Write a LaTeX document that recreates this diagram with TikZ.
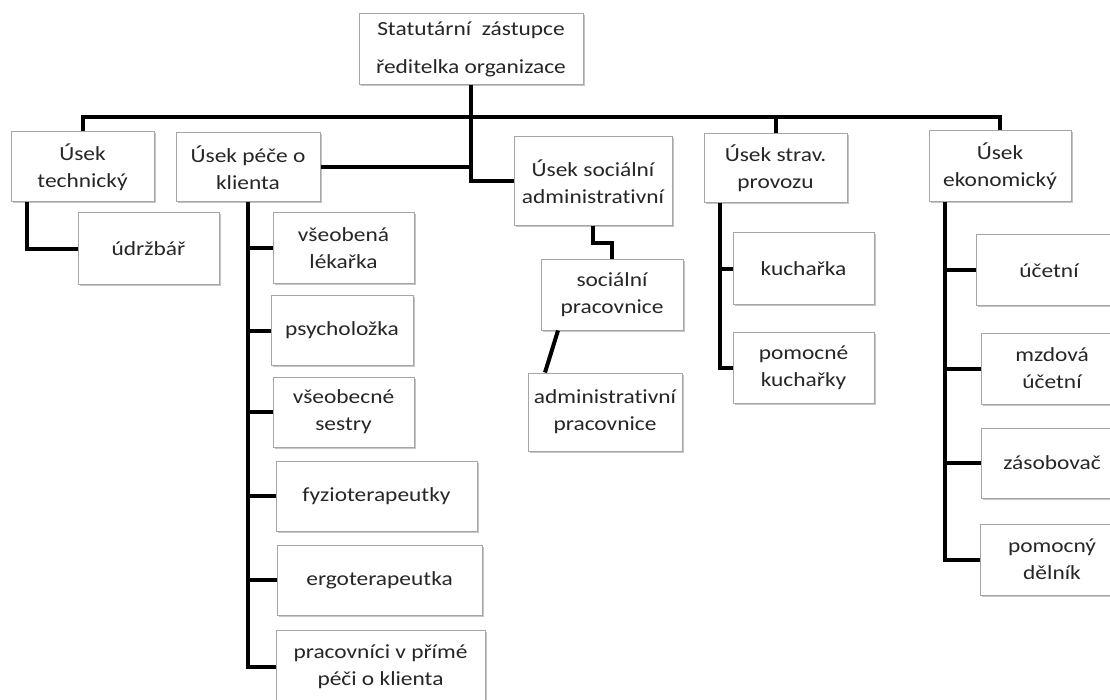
\documentclass[tikz,border=0pt]{standalone}
\usepackage{fontspec}
\setmainfont{Carlito}[FakeStretch=1.17,Ligatures=NoCommon]
\usetikzlibrary{calc,shadows}

\begin{document}
\begin{tikzpicture}[x=1pt,y=-1pt,
  box/.style={draw=black!35,line width=1pt,fill=white,inner sep=0pt,align=center,
    text=black!85,font=\fontsize{20}{27}\selectfont,
    drop shadow={shadow xshift=1.5pt,shadow yshift=-1.5pt,fill=black!45,opacity=0.5}},
  sz/.style 2 args={minimum width=#1pt,minimum height=#2pt},
  conn/.style={line width=4pt}]
\useasboundingbox (0,0) rectangle (1110,700);
\clip (0,0) rectangle (1110,700);

\node[box,sz={224}{71}] (top) at (471,49.5) {Statutární\ \ zástupce\\[11pt]ředitelka organizace};

\node[box,sz={143}{70}] (tech) at (82.5,167) {Úsek\\technický};
\node[box,sz={144}{69}] (pece) at (248,167.5) {Úsek péče o\\klienta};
\node[box,sz={158}{89}] (soc) at (593,181.5) {Úsek sociální\\administrativní};
\node[box,sz={143}{69}] (strav) at (775.5,168.5) {Úsek strav.\\provozu};
\node[box,sz={142}{71}] (ekon) at (1000,166.5) {Úsek\\ekonomický};

\node[box,sz={141}{72}] (udrz) at (148.5,249) {údržbář};

\node[box,sz={141}{71}] (lek) at (343.5,248.5) {všeobená\\lékařka};
\node[box,sz={142}{69}] (psych) at (342,330.5) {psycholožka};
\node[box,sz={141}{70}] (sestry) at (343.5,412) {všeobecné\\sestry};
\node[box,sz={201}{70}] (fyzio) at (376.5,496) {fyzioterapeutky};
\node[box,sz={205}{70}] (ergo) at (379.5,580) {ergoterapeutka};
\node[box,sz={209}{74}] (prim) at (380.5,667) {pracovníci v přímé\\péči o klienta};

\node[box,sz={142}{70}] (socprac) at (612,295) {sociální\\pracovnice};
\node[box,sz={154}{78}] (admprac) at (605,412) {administrativní\\pracovnice};

\node[box,sz={141}{72}] (kuch) at (803.5,269) {kuchařka};
\node[box,sz={141}{71}] (pomkuch) at (803.5,367.5) {pomocné\\kuchařky};

\node[box,sz={146}{71}] (ucet) at (1049,270.5) {účetní};
\node[box,sz={142}{71}] (mzd) at (1052,368.5) {mzdová\\účetní};
\node[box,sz={142}{70}] (zasob) at (1052,463) {zásobovač};
\node[box,sz={144}{71}] (delnik) at (1052,559.5) {pomocný\\dělník};

\coordinate (bar) at (0,117);
\coordinate (sv) at ([xshift=16pt]strav.south west);
\coordinate (ev) at ([xshift=16pt]ekon.south west);

\draw[conn] (tech.north) -- (tech.north |- bar) -- (ekon.north |- bar) -- (ekon.north);
\draw[conn] (strav.north) -- (strav.north |- bar);
\draw[conn] (top.south) |- (soc.west);
\draw[conn] (pece.east) -- (pece.east -| top.south);

\draw[conn] ([xshift=16pt]tech.south west) |- (udrz.west);

\draw[conn] (pece.south) |- (prim.west);
\foreach \n in {lek,psych,sestry,fyzio,ergo}
  \draw[conn] (\n.west) -- (\n.west -| pece.south);

\draw[conn] (soc.south) |- ($(soc.south)!0.5!(socprac.north)$) -| (socprac.north);
\draw[conn] ([xshift=-54pt]socprac.south) -- ([xshift=-60pt]admprac.north);

\draw[conn] (sv) |- (pomkuch.west);
\draw[conn] (kuch.west) -- (kuch.west -| sv);

\draw[conn] (ev) |- (delnik.west);
\foreach \n in {ucet,mzd,zasob}
  \draw[conn] (\n.west) -- (\n.west -| ev);
\end{tikzpicture}
\end{document}
